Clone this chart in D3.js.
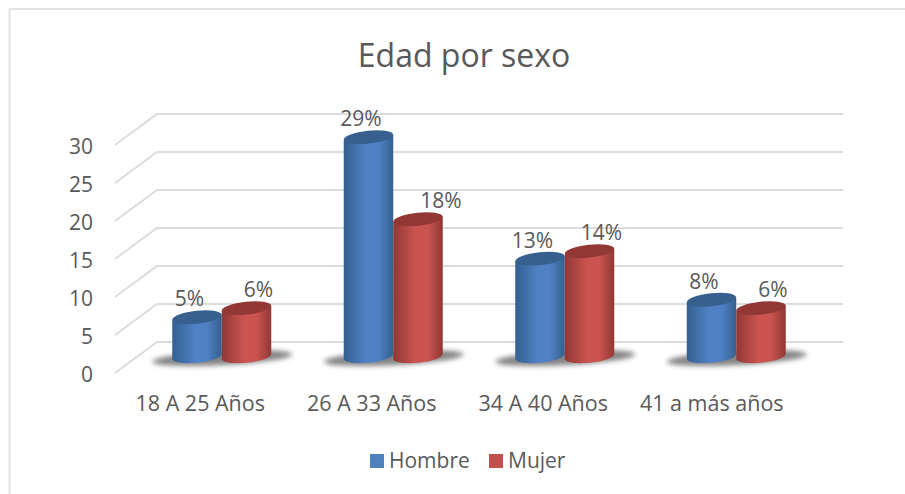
<!DOCTYPE html>
<html>
<head>
<meta charset="utf-8">
<script src="https://cdnjs.cloudflare.com/ajax/libs/d3/7.8.5/d3.min.js"></script>
<style>
  html, body { margin: 0; padding: 0; background: #fff; }
  text { font-family: "Open Sans", sans-serif; fill: #595959; }
</style>
</head>
<body>
<div id="chart"></div>
<script>
const categories = ["18 A 25 Años", "26 A 33 Años", "34 A 40 Años", "41 a más años"];
const seriesNames = ["Hombre", "Mujer"];
const hombre = [5.1, 28.8, 12.8, 7.4];
const mujer = [6.3, 18, 13.8, 6.3];
const hombreLabels = ["5%", "29%", "13%", "8%"];
const mujerLabels = ["6%", "18%", "14%", "6%"];
const yTicks = [0, 5, 10, 15, 20, 25, 30];

const width = 905, height = 494;
const depthX = 42, depthY = -31;   // offset front edge -> back wall
const ry = 6.5;                    // cylinder cap

const svg = d3.select("#chart").append("svg")
    .attr("width", width)
    .attr("height", height);

const defs = svg.append("defs");

// cylinder shading, dark at the edges and light in the middle
function sideGradient(id, edge, mid) {
    const g = defs.append("linearGradient").attr("id", id);
    g.append("stop").attr("offset", "0%").attr("stop-color", edge);
    g.append("stop").attr("offset", "45%").attr("stop-color", mid);
    g.append("stop").attr("offset", "70%").attr("stop-color", mid);
    g.append("stop").attr("offset", "100%").attr("stop-color", edge);
}
sideGradient("side0", "#34608f", "#4f81c4");
sideGradient("side1", "#8f3835", "#cb5450");
const blur = defs.append("filter").attr("id", "blur")
    .attr("x", "-20%").attr("y", "-50%").attr("width", "140%").attr("height", "200%");
blur.append("feGaussianBlur").attr("stdDeviation", 2.5);

// frame
svg.append("path")
    .attr("d", "M9.5,494V9H905")
    .attr("fill", "none")
    .attr("stroke", "#e2e2e2")
    .attr("stroke-width", 2);

svg.append("text")
    .attr("x", 464).attr("y", 67)
    .attr("text-anchor", "middle")
    .style("font-size", "32px")
    .text("Edad por sexo");

// scales
const y = d3.scaleLinear().domain([0, 30]).range([373, 145]);
const x0 = d3.scaleBand().domain(categories).range([136, 822]);
const x1 = d3.scaleBand().domain(seriesNames).range([0, 99]);

// walls
svg.append("g").selectAll("path").data(yTicks).join("path")
    .attr("d", d => `M115,${y(d)}L${115 + depthX},${y(d) + depthY}H843`)
    .attr("fill", "none")
    .attr("stroke", "#dcdcdc")
    .attr("stroke-width", 1.8);

// y axis labels
svg.append("g").attr("transform", "translate(93,1.5)")
    .call(d3.axisLeft(y).tickValues(yTicks).tickSize(0).tickPadding(0))
    .call(g => g.select(".domain").remove())
    .call(g => g.selectAll("text").style("font-size", "21px").attr("text-anchor", "end"));

// category labels sit under the front edge of the floor
svg.append("g").selectAll("text").data(categories).join("text")
    .attr("x", (d, i) => x0(d) + x0.bandwidth() / 2 - 21.5 - (i === 3 ? 3 : 0))
    .attr("y", 411)
    .attr("text-anchor", "middle")
    .style("font-size", "21.5px")
    .text(d => d);

const baseY = 356;
const unit = y(0) - y(1);

const rows = categories.map((c, i) => ({ c, i, vals: [hombre[i], mujer[i]] }));
const groups = svg.append("g").selectAll("g").data(rows).join("g")
    .attr("transform", d => `translate(${x0(d.c) + x0.bandwidth() / 2 - 49.5},0)`);

// floor shadow
groups.append("ellipse")
    .attr("transform", `translate(50,${baseY + 2}) rotate(-3)`)
    .attr("rx", 70).attr("ry", 7)
    .attr("fill", "#6e6e6e")
    .attr("opacity", 0.85)
    .attr("filter", "url(#blur)");

seriesNames.forEach((s, si) => {
    const bars = groups.append("g")
        .attr("transform", `translate(${x1(s)},0)`);
    const w = x1.bandwidth();
    const tilt = -6;

    bars.append("path")
        .attr("fill", `url(#side${si})`)
        .attr("d", d => {
            const top = baseY - d.vals[si] * unit;
            return `M0,${top + 2.5}V${baseY + 2.5}`
                + `C0,${baseY + 11} ${w},${baseY + 7} ${w},${baseY - 2.5}`
                + `V${top - 2.5}Z`;
        });
    bars.append("ellipse")
        .attr("fill", si === 0 ? "#37608f" : "#913835")
        .attr("transform", d => `translate(${w / 2},${baseY - d.vals[si] * unit}) rotate(${tilt})`)
        .attr("rx", w / 2).attr("ry", ry);

    // the 18% label sits further out than the others
    bars.append("text")
        .attr("x", d => w / 2 + (si === 0 ? -7.5 : (d.i === 1 ? 23 : 12)))
        .attr("y", d => baseY - d.vals[si] * unit - 11)
        .attr("text-anchor", "middle")
        .style("font-size", "21px")
        .text(d => (si === 0 ? hombreLabels : mujerLabels)[d.i]);
});

// legend
const legendX = [370, 489];
const legend = svg.append("g").selectAll("g").data(seriesNames).join("g")
    .attr("transform", (d, i) => `translate(${legendX[i]},454)`);
legend.append("rect")
    .attr("width", 14).attr("height", 14)
    .attr("fill", (d, i) => i === 0 ? "#4f81bd" : "#c0504d");
legend.append("text")
    .attr("x", 19).attr("y", 14)
    .style("font-size", "21px")
    .text(d => d);
</script>
</body>
</html>
